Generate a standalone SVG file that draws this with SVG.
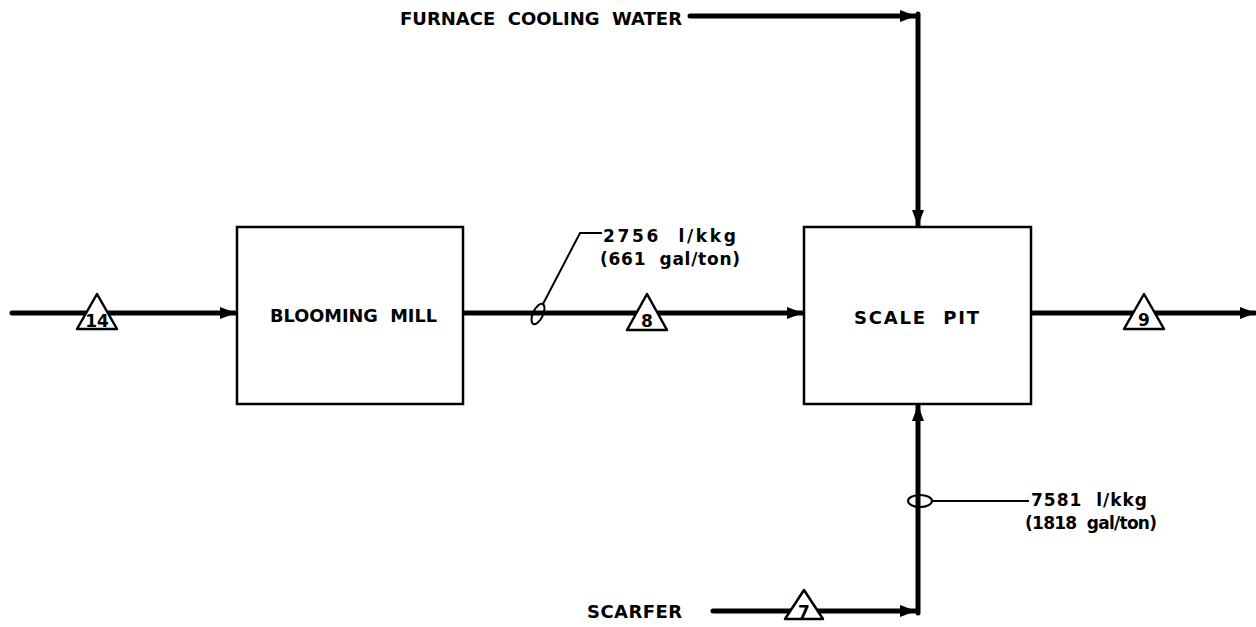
<svg xmlns="http://www.w3.org/2000/svg" width="1256" height="627" viewBox="0 0 1256 627">
<style>
.flow{fill:none;stroke:#000;stroke-width:5;stroke-linecap:round;stroke-linejoin:miter}
.box{fill:#fff;stroke:#000;stroke-width:2.5}
.tri{fill:#fff;stroke:#000;stroke-width:2.5;stroke-linejoin:round}
.lbl{font-family:"DejaVu Sans","Liberation Sans",Arial,sans-serif;font-weight:bold;font-size:18px;fill:#000;white-space:pre}
.num{font-family:"DejaVu Sans","Liberation Sans",Arial,sans-serif;font-weight:bold;font-size:17px;fill:#000;text-anchor:middle}
.note{font-family:"DejaVu Sans","Liberation Sans",Arial,sans-serif;font-weight:bold;font-size:17px;fill:#000;white-space:pre}
.thin{fill:none;stroke:#000;stroke-width:2}
</style>
<defs>
<marker id="ah" viewBox="0 0 16 12" refX="15" refY="6" markerWidth="16" markerHeight="12" markerUnits="userSpaceOnUse" orient="auto">
<path d="M0,0 L16,6 L0,12 Z" fill="#000"/>
</marker>
</defs>
<g id="connectors">
<line class="flow" x1="690" y1="16" x2="915" y2="16" marker-end="url(#ah)"/>
<line class="flow" x1="918" y1="14" x2="918" y2="225" marker-end="url(#ah)"/>
<line class="flow" x1="12" y1="313" x2="235" y2="313" marker-end="url(#ah)"/>
<line class="flow" x1="463" y1="313" x2="802" y2="313" marker-end="url(#ah)"/>
<line class="flow" x1="1031" y1="313" x2="1255" y2="313" marker-end="url(#ah)"/>
<line class="flow" x1="713" y1="611" x2="915" y2="611" marker-end="url(#ah)"/>
<line class="flow" x1="918" y1="613" x2="918" y2="406" marker-end="url(#ah)"/>
</g>
<g id="node-blooming-mill">
<rect class="box" x="237" y="227" width="226" height="177"/>
<text class="lbl" x="270" y="322" textLength="167" lengthAdjust="spacingAndGlyphs">BLOOMING  MILL</text>
</g>
<g id="node-scale-pit">
<rect class="box" x="804" y="227" width="227" height="177"/>
<text class="lbl" x="854" y="324" textLength="125" lengthAdjust="spacing">SCALE  PIT</text>
</g>
<g id="source-furnace">
<text class="lbl" x="400" y="25" textLength="282" lengthAdjust="spacing">FURNACE  COOLING  WATER</text>
</g>
<g id="source-scarfer">
<text class="lbl" x="587" y="618" textLength="95" lengthAdjust="spacing">SCARFER</text>
</g>
<g id="stream-14">
<path class="tri" d="M97,294 L117,329 L77,329 Z"/>
<text class="num" x="97" y="327">14</text>
</g>
<g id="stream-8">
<path class="tri" d="M647,294 L667,330 L627,330 Z"/>
<text class="num" x="647" y="327">8</text>
</g>
<g id="stream-9">
<path class="tri" d="M1144,294 L1164,329 L1124,329 Z"/>
<text class="num" x="1144" y="326">9</text>
</g>
<g id="stream-7">
<path class="tri" d="M804,590 L823,619 L785,619 Z"/>
<text class="num" x="804" y="618">7</text>
</g>
<g id="flow-note-2756">
<ellipse class="thin" cx="538" cy="314" rx="5" ry="11" transform="rotate(25 538 314)"/>
<polyline class="thin" points="543,304 580,233 602,233"/>
<text class="note" x="603" y="242" textLength="133" lengthAdjust="spacing">2756  l/kkg</text>
<text class="note" x="600" y="265" textLength="140" lengthAdjust="spacing">(661  gal/ton)</text>
</g>
<g id="flow-note-7581">
<ellipse class="thin" cx="920" cy="501" rx="12" ry="6"/>
<line class="thin" x1="932" y1="501" x2="1029" y2="501"/>
<text class="note" x="1031" y="506" textLength="116" lengthAdjust="spacing">7581  l/kkg</text>
<text class="note" x="1025" y="529" textLength="132" lengthAdjust="spacing">(1818  gal/ton)</text>
</g>
</svg>
